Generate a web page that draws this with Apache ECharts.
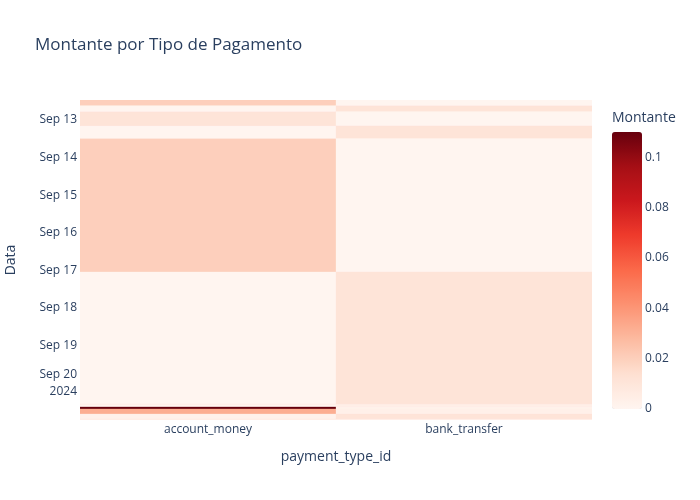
<!DOCTYPE html>
<html>
<head>
<meta charset="utf-8">
<script src="https://cdn.jsdelivr.net/npm/echarts@6/dist/echarts.min.js"></script>
<style>
  html, body { margin: 0; padding: 0; background: #fff; }
  #main { width: 700px; height: 500px; }
</style>
</head>
<body>
<div id="main"></div>
<script>
// tipos de pagamento (eixo x)
var paymentTypes = ['account_money', 'bank_transfer'];
// limites das linhas do heatmap (eixo y, datas)
var rowEdges = [
    '2024-09-12 11:15', '2024-09-12 15:00', '2024-09-12 18:50', '2024-09-13 03:50',
    '2024-09-13 12:00', '2024-09-17 01:05', '2024-09-20 13:25', '2024-09-20 14:05',
    '2024-09-20 15:20', '2024-09-20 16:35', '2024-09-20 19:50', '2024-09-20 23:00',
    '2024-09-20 23:40'
];
// montante por linha
var accountMoney = [0.02, 0, 0.011, 0, 0.02, 0, 0.004, 0, 0.11, 0.032, 0.002, 0.004];
var bankTransfer = [0, 0.011, 0, 0.011, 0, 0.011, 0.005, 0.004, 0.002, 0.003, 0.011, 0.004];
// ticks do eixo y
var dayTicks = ['2024-09-13', '2024-09-14', '2024-09-15', '2024-09-16',
    '2024-09-17', '2024-09-18', '2024-09-19', '2024-09-20'];
// escala da barra de cores
var colorMin = 0, colorMax = 0.11;

var fontFam = '"Open Sans", verdana, arial, sans-serif';
var txt = '#2a3f5f';
var months = ['Jan','Feb','Mar','Apr','May','Jun','Jul','Aug','Sep','Oct','Nov','Dec'];

function toMs(s) {
    var p = s.split(/[- :]/);
    return new Date(+p[0], +p[1] - 1, +p[2], +(p[3] || 0), +(p[4] || 0)).getTime();
}

var edgeMs = rowEdges.map(toMs);
var tickMs = dayTicks.map(toMs);

var cells = [];
[accountMoney, bankTransfer].forEach(function (vals, xi) {
    for (var i = 0; i < vals.length; i++) {
        cells.push([xi, edgeMs[i], edgeMs[i + 1], vals[i]]);
    }
});

var myChart = echarts.init(document.getElementById('main'));

var option = {
    textStyle: { fontFamily: fontFam },
    title: [
        {
            text: 'Montante por Tipo de Pagamento',
            left: 35, top: 37, padding: 0,
            textStyle: { fontFamily: fontFam, fontSize: 17, fontWeight: 'normal', color: txt }
        },
        {
            text: 'Montante',
            left: 612, top: 111, padding: 0,
            textStyle: { fontFamily: fontFam, fontSize: 14, fontWeight: 'normal', color: txt }
        }
    ],
    grid: [
        { left: 80, right: 108, top: 100, bottom: 80, outerBoundsMode: 'none' },
        { left: 612, top: 132, width: 30, height: 277, outerBoundsMode: 'none' }
    ],
    xAxis: [
        {
            type: 'category',
            data: paymentTypes,
            gridIndex: 0,
            axisLine: { show: false },
            axisTick: { show: false },
            axisLabel: { color: txt, fontSize: 12, margin: 4 },
            name: 'payment_type_id',
            nameLocation: 'middle',
            nameGap: 30,
            nameTextStyle: { color: txt, fontSize: 14 }
        },
        { type: 'value', gridIndex: 1, show: false, min: 0, max: 1 }
    ],
    yAxis: [
        {
            type: 'value',
            gridIndex: 0,
            inverse: true,
            min: edgeMs[0],
            max: edgeMs[edgeMs.length - 1],
            axisLine: { show: false },
            axisTick: { show: false },
            splitLine: { show: false },
            axisLabel: {
                customValues: tickMs,
                color: txt, fontSize: 12, margin: 3,
                lineHeight: 17,
                padding: [4, 0, 0, 0],
                formatter: function (v) {
                    var d = new Date(v);
                    var s = months[d.getMonth()] + ' ' + d.getDate();
                    if (d.getDate() === 20) s += '\n' + d.getFullYear();
                    return s;
                }
            },
            name: 'Data',
            nameLocation: 'middle',
            nameGap: 62,
            nameTextStyle: { color: txt, fontSize: 14 }
        },
        {
            type: 'value',
            gridIndex: 1,
            position: 'right',
            min: colorMin, max: colorMax, interval: 0.02,
            axisLine: { show: false },
            axisTick: { show: false },
            splitLine: { show: false },
            axisLabel: {
                color: txt, fontSize: 12, margin: 3, showMaxLabel: false,
                padding: [4, 0, 0, 0]
            }
        }
    ],
    visualMap: {
        type: 'continuous',
        min: colorMin, max: colorMax,
        dimension: 3,
        seriesIndex: 0,
        calculable: false,
        left: 612, top: 132,
        padding: 0,
        itemWidth: 30,
        itemHeight: 277,
        text: null,
        showLabel: false,
        inRange: {
            color: ['rgb(255,245,240)', 'rgb(254,224,210)', 'rgb(252,187,161)',
                'rgb(252,146,114)', 'rgb(251,106,74)', 'rgb(239,59,44)',
                'rgb(203,24,29)', 'rgb(165,15,21)', 'rgb(103,0,13)']
        }
    },
    series: [
        {
            type: 'custom',
            xAxisIndex: 0, yAxisIndex: 0,
            clip: true,
            encode: { x: 0, y: [1, 2] },
            data: cells,
            renderItem: function (params, api) {
                var xi = api.value(0);
                var p0 = api.coord([xi, api.value(1)]);
                var p1 = api.coord([xi, api.value(2)]);
                var bw = api.size([1, 0])[0];
                var c = api.visual('color');
                return {
                    type: 'rect',
                    shape: {
                        x: p0[0] - bw / 2,
                        y: Math.min(p0[1], p1[1]),
                        width: bw,
                        height: Math.abs(p1[1] - p0[1])
                    },
                    style: { fill: c, stroke: c, lineWidth: 0.3 }
                };
            }
        }
    ]
};

myChart.setOption(option);
</script>
</body>
</html>
